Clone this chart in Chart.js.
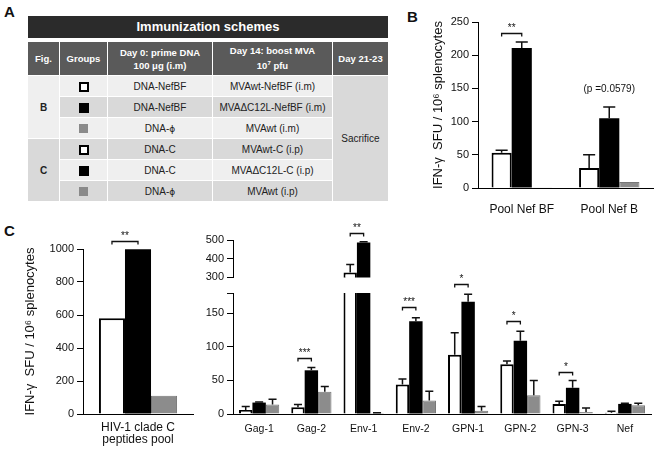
<!DOCTYPE html>
<html>
<head>
<meta charset="utf-8">
<script src="https://cdn.jsdelivr.net/npm/chart.js@4.4.1/dist/chart.umd.min.js"></script>
<style>
  body { margin: 0; width: 662px; height: 450px; position: relative; background: #fff; overflow: hidden;
         font-family: "Liberation Sans", Arial, sans-serif; color: #111; }
  .panel { position: absolute; font-weight: bold; font-size: 15px; }
  canvas { position: absolute; }
  .title-bar { position: absolute; left: 28px; top: 16px; width: 360px; height: 22px; background: #2b2b2b;
               color: #fff; font-weight: bold; font-size: 13px; line-height: 22px; text-align: center; }
  table.scheme { position: absolute; left: 27px; top: 41px; border-collapse: separate; border-spacing: 1px;
                 table-layout: fixed; font-size: 10px; color: #222; }
  table.scheme th { background: #5a5a5a; color: #fff; font-weight: bold; font-size: 9.5px; height: 33px; padding: 0; line-height: 13px; }
  table.scheme td { height: 20px; padding: 0; text-align: center; }
  .lt { background: #efefef; }
  .dk { background: #d9d9d9; }
  .phi { font-family: "DejaVu Sans", sans-serif; font-size: 9px; }
  .sq { display: inline-block; width: 10px; height: 10px; box-sizing: border-box; vertical-align: middle; }
  .sq.wt { border: 2px solid #000; background: #fff; }
  .sq.delta { background: #000; }
  .sq.grey { background: #8a8a8a; width: 9px; height: 9px; }
</style>
</head>
<body>
<div class="panel" style="left:4px;top:3px;">A</div>
<div class="panel" style="left:407px;top:8px;">B</div>
<div class="panel" style="left:4px;top:222px;">C</div>

<div class="title-bar">Immunization schemes</div>
<table class="scheme">
  <colgroup>
    <col style="width:31px"><col style="width:47px"><col style="width:104px"><col style="width:119px"><col style="width:55px">
  </colgroup>
  <tr>
    <th>Fig.</th><th>Groups</th><th>Day 0: prime DNA<br>100 μg (i.m)</th><th>Day 14: boost MVA<br>10<sup style="font-size:6px">7</sup> pfu</th><th>Day 21-23</th>
  </tr>
  <tr class="lt">
    <td rowspan="3" class="lt" style="font-weight:bold">B</td>
    <td><span class="sq wt"></span></td><td>DNA-NefBF</td><td>MVAwt-NefBF (i.m)</td>
    <td rowspan="6" class="dk">Sacrifice</td>
  </tr>
  <tr class="dk"><td><span class="sq delta"></span></td><td>DNA-NefBF</td><td>MVAΔC12L-NefBF (i.m)</td></tr>
  <tr class="lt"><td><span class="sq grey"></span></td><td>DNA-<span class="phi">ϕ</span></td><td>MVAwt (i.m)</td></tr>
  <tr class="dk">
    <td rowspan="3" class="dk" style="font-weight:bold">C</td>
    <td><span class="sq wt"></span></td><td>DNA-C</td><td>MVAwt-C (i.p)</td>
  </tr>
  <tr class="lt"><td><span class="sq delta"></span></td><td>DNA-C</td><td>MVAΔC12L-C (i.p)</td></tr>
  <tr class="dk"><td><span class="sq grey"></span></td><td>DNA-<span class="phi">ϕ</span></td><td>MVAwt (i.p)</td></tr>
</table>

<canvas id="chartB" width="235" height="230" style="left:427px;top:0px;"></canvas>
<canvas id="chartPool" width="179" height="225" style="left:19px;top:225px;"></canvas>
<canvas id="chartHigh" width="462" height="67" style="left:200px;top:220px;"></canvas>
<canvas id="chartLow" width="462" height="190" style="left:200px;top:260px;"></canvas>

<script>
// panel B
const bLabels = ["Pool Nef BF", "Pool Nef B"];
const bWt = [53, 30];
const bWtErr = [57, 50];
const bDelta = [211, 105];
const bDeltaErr = [220, 122];
const bPhi = [1, 9];
const bBrackets = [{ index: 0, value: 234, text: "**" }];
const bNotes = [{ index: 1, value: 141, text: "(p =0.0579)" }];

// panel C, pooled peptides
const poolLabels = [["HIV-1 clade C", "peptides pool"]];
const poolWt = [580];
const poolDelta = [998];
const poolPhi = [110];
const poolBrackets = [{ index: 0, value: 1046, text: "**" }];

// panel C, single peptides
const cLabels = ["Gag-1", "Gag-2", "Env-1", "Env-2", "GPN-1", "GPN-2", "GPN-3", "Nef"];
const cWt = [6, 10, 326, 44, 88, 74, 15, 2];
const cWtErr = [11, 14, 369, 52, 121, 79, 19, 4];
const cDelta = [17, 65, 486, 138, 167, 109, 39, 15];
const cDeltaErr = [18, 69, 490, 143, 178, 123, 50, 16];
const cPhi = [14, 33, 1.5, 20, 5, 28, 3, 13];
const cPhiErr = [22, 41, 2, 34, 11, 50, 9, 16];
const cBrackets = [
    { index: 1, value: 83, text: "***" },
    { index: 2, value: 535, text: "**" },
    { index: 3, value: 159, text: "***" },
    { index: 4, value: 194, text: "*" },
    { index: 5, value: 139, text: "*" },
    { index: 6, value: 62, text: "*" },
];

const yTitle = "IFN-\u03b3  SFU / 10\u2076 splenocytes";

Chart.defaults.font.family = "'Liberation Sans', Arial, sans-serif";
Chart.defaults.color = "#111";
Chart.defaults.animation = false;

const wtStyle = { backgroundColor: "#fff", borderColor: "#000", borderWidth: 2 };
const deltaStyle = { backgroundColor: "#000", borderColor: "#000", borderWidth: 0 };
const phiStyle = { backgroundColor: "#8c8c8c", borderColor: "#777", borderWidth: 1 };

// error bars, brackets with stars, and free notes
const marks = (brackets = [], notes = [], topTick = false) => ({
    id: "marks",
    afterDatasetsDraw(chart) {
        const ctx = chart.ctx;
        const area = chart.chartArea;
        const y = chart.scales.y;

        ctx.save();
        ctx.beginPath();
        ctx.rect(area.left, area.top - 1, area.right - area.left, area.bottom - area.top + 1);
        ctx.clip();
        ctx.strokeStyle = "#111";
        ctx.lineWidth = 1.5;
        chart.data.datasets.forEach((ds, i) => {
            if (!ds.errTop) return;
            chart.getDatasetMeta(i).data.forEach((bar, j) => {
                const top = ds.errTop[j];
                if (top == null || top <= ds.data[j]) return;
                const yt = y.getPixelForValue(top);
                const w = bar.width * 0.3;
                ctx.beginPath();
                ctx.moveTo(bar.x, bar.y);
                ctx.lineTo(bar.x, yt);
                ctx.moveTo(bar.x - w, yt);
                ctx.lineTo(bar.x + w, yt);
                ctx.stroke();
            });
        });
        ctx.restore();

        ctx.save();
        ctx.strokeStyle = "#111";
        ctx.fillStyle = "#111";
        ctx.lineWidth = 1.3;
        ctx.textAlign = "center";
        ctx.textBaseline = "bottom";
        const wtBars = chart.getDatasetMeta(0).data;
        const deltaBars = chart.getDatasetMeta(1).data;
        brackets.forEach((b) => {
            const x1 = wtBars[b.index].x;
            const x2 = deltaBars[b.index].x;
            const yb = Math.round(y.getPixelForValue(b.value)) + 0.5;
            ctx.beginPath();
            ctx.moveTo(x1, yb + 3);
            ctx.lineTo(x1, yb);
            ctx.lineTo(x2, yb);
            ctx.lineTo(x2, yb + 3);
            ctx.stroke();
            ctx.font = "10px 'Liberation Sans', Arial, sans-serif";
            ctx.fillText(b.text, (x1 + x2) / 2, yb);
        });
        notes.forEach((n) => {
            ctx.font = "10px 'Liberation Sans', Arial, sans-serif";
            ctx.fillText(n.text, deltaBars[n.index].x, y.getPixelForValue(n.value));
        });
        if (topTick) {
            ctx.lineWidth = 1;
            ctx.beginPath();
            ctx.moveTo(area.left - 6, area.top + 0.5);
            ctx.lineTo(area.left, area.top + 0.5);
            ctx.stroke();
        }
        ctx.restore();
    },
});

const yScale = (min, max, step, width, title, includeBounds = true) => ({
    min: min,
    max: max,
    ticks: {
        stepSize: step,
        padding: 3,
        includeBounds: includeBounds,
        font: { size: 11 },
        color: "#111",
        callback: (v) => String(v),
    },
    grid: { drawOnChartArea: false, tickLength: 6, color: "#000", lineWidth: 1 },
    border: { color: "#000", width: 1 },
    title: {
        display: title ? true : false,
        text: title || "",
        font: { size: 13 },
        color: "#111",
        padding: { top: 4, bottom: 4 },
    },
    afterFit: (scale) => {
        scale.width = width;
    },
});

const xScale = (height, pad, size, show = true) => ({
    display: show,
    grid: { display: false, drawTicks: false },
    border: { color: "#000", width: 1 },
    ticks: { padding: pad, font: { size: size, lineHeight: 1.05 }, color: "#111", maxRotation: 0, autoSkip: false },
    afterFit: (scale) => {
        scale.height = height;
    },
});

const barSets = (wt, wtErr, delta, deltaErr, phi, phiErr) => [
    { data: wt, errTop: wtErr, ...wtStyle },
    { data: delta, errTop: deltaErr, ...deltaStyle },
    { data: phi, errTop: phiErr, ...phiStyle },
];

const makeChart = (id, labels, datasets, pct, scales, padding, plugin) =>
    new Chart(document.getElementById(id), {
        type: "bar",
        data: { labels: labels, datasets: datasets },
        options: {
            responsive: false,
            layout: { padding: padding },
            datasets: { bar: { categoryPercentage: pct, barPercentage: 1, borderSkipped: "start" } },
            plugins: { legend: { display: false }, tooltip: { enabled: false } },
            scales: scales,
        },
        plugins: [plugin],
    });

makeChart(
    "chartB",
    bLabels,
    barSets(bWt, bWtErr, bDelta, bDeltaErr, bPhi, null),
    0.69,
    { x: xScale(42, 15, 12), y: yScale(0, 250, 50, 51, yTitle) },
    { left: 0, right: 9, top: 22, bottom: 0 },
    marks(bBrackets, bNotes)
);

makeChart(
    "chartPool",
    poolLabels,
    barSets(poolWt, null, poolDelta, null, poolPhi, null),
    0.71,
    { x: xScale(36, 7, 12), y: yScale(0, 1000, 200, 64, yTitle) },
    { left: 0, right: 5, top: 24, bottom: 0 },
    marks(poolBrackets)
);

makeChart(
    "chartHigh",
    cLabels,
    barSets(cWt, cWtErr, cDelta, cDeltaErr, cPhi, cPhiErr),
    0.77,
    { x: xScale(0, 0, 11, false), y: yScale(300, 500, 100, 33, null) },
    { left: 0, right: 11, top: 20, bottom: 8 },
    marks(cBrackets.filter((b) => b.value > 300))
);

makeChart(
    "chartLow",
    cLabels,
    barSets(cWt, cWtErr, cDelta, cDeltaErr, cPhi, cPhiErr),
    0.77,
    { x: xScale(36, 10, 10.5), y: yScale(0, 180, 50, 33, null, false) },
    { left: 0, right: 11, top: 33, bottom: 0 },
    marks(cBrackets.filter((b) => b.value < 300), [], true)
);
</script>
</body>
</html>
